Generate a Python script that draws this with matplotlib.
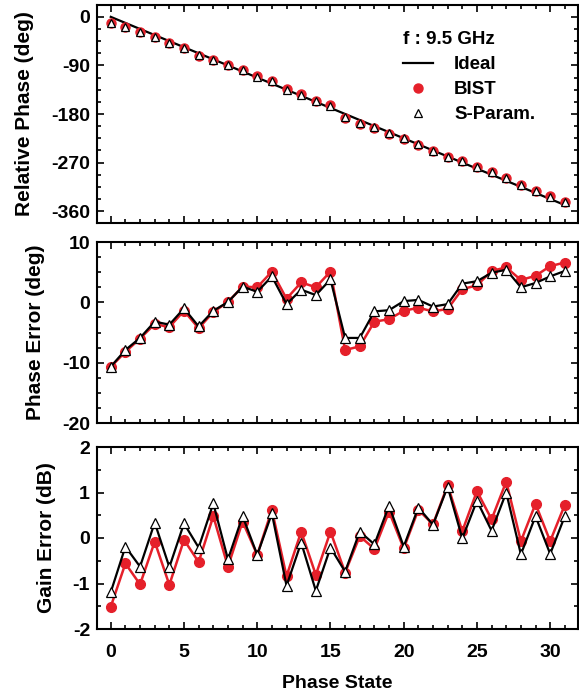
import matplotlib
matplotlib.use("Agg")
import matplotlib.pyplot as plt
from matplotlib.ticker import MultipleLocator
from matplotlib.lines import Line2D

plt.rcParams['font.family'] = ['Liberation Sans', 'DejaVu Sans']
plt.rcParams['font.weight'] = 'bold'
plt.rcParams['axes.unicode_minus'] = False

states = list(range(32))

ideal_phase = [0, -11.25, -22.5, -33.75, -45, -56.25, -67.5, -78.75, -90, -101.25,
               -112.5, -123.75, -135, -146.25, -157.5, -168.75, -180, -191.25, -202.5,
               -213.75, -225, -236.25, -247.5, -258.75, -270, -281.25, -292.5, -303.75,
               -315, -326.25, -337.5, -348.75]
bist_phase = [-10.7, -19.5, -28.5, -37.4, -49.1, -57.7, -71.8, -80.4, -90.0, -98.7,
              -110.0, -118.7, -134.4, -143.0, -155.0, -163.7, -187.9, -198.6, -205.7,
              -216.6, -226.4, -237.2, -249.0, -259.9, -267.8, -278.5, -287.3, -298.0,
              -311.3, -321.9, -331.5, -342.2]
spar_phase = [-10.7, -19.2, -28.4, -37.0, -48.7, -57.3, -71.5, -80.2, -90.0, -98.7,
              -110.8, -119.5, -135.3, -144.2, -156.3, -165.0, -185.9, -197.2, -204.0,
              -215.1, -224.8, -235.9, -248.2, -259.1, -266.9, -277.8, -287.6, -298.4,
              -312.5, -323.1, -333.2, -343.6]

bist_perr = [-10.7, -8.2, -6.0, -3.6, -4.1, -1.4, -4.3, -1.6, 0.05, 2.6,
             2.5, 5.1, 0.6, 3.3, 2.5, 5.1, -7.9, -7.3, -3.2, -2.8,
             -1.4, -0.9, -1.5, -1.1, 2.2, 2.8, 5.2, 5.8, 3.7, 4.4, 6.0, 6.6]
spar_perr = [-10.66, -7.9, -5.9, -3.2, -3.7, -1.0, -4.0, -1.4, 0.05, 2.6,
             1.75, 4.3, -0.3, 2.1, 1.2, 3.8, -5.9, -5.9, -1.5, -1.3,
             0.2, 0.4, -0.7, -0.3, 3.1, 3.5, 4.9, 5.4, 2.5, 3.2, 4.3, 5.2]

bist_gerr = [-1.51, -0.56, -1.02, -0.08, -1.03, -0.04, -0.53, 0.48, -0.63, 0.36,
             -0.37, 0.62, -0.84, 0.14, -0.81, 0.14, -0.76, 0.04, -0.24, 0.58,
             -0.23, 0.62, 0.30, 1.16, 0.15, 1.03, 0.41, 1.24, -0.07, 0.75, -0.07, 0.73]
spar_gerr = [-1.19, -0.19, -0.63, 0.34, -0.64, 0.32, -0.21, 0.76, -0.47, 0.48,
             -0.37, 0.54, -1.05, -0.10, -1.16, -0.21, -0.74, 0.14, -0.14, 0.71,
             -0.19, 0.67, 0.29, 1.13, -0.01, 0.82, 0.16, 1.00, -0.36, 0.48, -0.35, 0.48]

RED = '#E5202A'
W, H = 579, 698
fig = plt.figure(figsize=(W / 100, H / 100), dpi=100)

left, right = 97, 578
def ax_at(top, bottom):
    return fig.add_axes([left / W, 1 - bottom / H, (right - left) / W, (bottom - top) / H])

ax1 = ax_at(5, 223)
ax2 = ax_at(242, 423)
ax3 = ax_at(447, 629)

TFS = 14
LFS = 15
for ax in (ax1, ax2, ax3):
    ax.set_xlim(-0.94, 31.9)
    ax.xaxis.set_major_locator(MultipleLocator(5))
    ax.xaxis.set_minor_locator(MultipleLocator(1))
    ax.tick_params(which='both', direction='in', top=True, right=True, width=1.2)
    ax.tick_params(which='major', length=5)
    ax.tick_params(which='minor', length=3)
    ax.tick_params(axis='y', which='major', pad=5, labelsize=TFS)
    ax.tick_params(axis='x', which='major', pad=11, labelsize=TFS)
    for s in ax.spines.values():
        s.set_linewidth(1.5)

# Top panel
ax1.plot(states, ideal_phase, color='black', lw=1.6, zorder=2)
ax1.plot(states, bist_phase, 'o', color=RED, ms=6.5, mec=RED, zorder=3)
ax1.plot(states, spar_phase, '^', color='white', ms=6, mec='black', mew=0.9, zorder=4)
ax1.set_ylim(-382, 22)
ax1.yaxis.set_major_locator(MultipleLocator(90))
ax1.yaxis.set_minor_locator(MultipleLocator(22.5))
ax1.set_ylabel('Relative Phase (deg)', fontsize=LFS, fontweight='bold', labelpad=12)
ax1.tick_params(axis='x', labelbottom=False)

handles = [Line2D([], [], color='black', lw=1.6),
           Line2D([], [], ls='none', marker='o', color=RED, ms=6.5),
           Line2D([], [], ls='none', marker='^', color='white', mec='black', mew=0.9, ms=6)]
leg = ax1.legend(handles, ['Ideal', 'BIST', 'S-Param.'], title='f : 9.5 GHz',
                 loc='upper left', bbox_to_anchor=((394 - left) / (right - left), 1 - (22 - 5) / 218),
                 frameon=False, borderpad=0, handlelength=1.6, handletextpad=1.1,
                 labelspacing=0.42, prop={'weight': 'bold', 'size': 13.5},
                 title_fontproperties={'weight': 'bold', 'size': 13.5}, alignment='left')

# Middle panel
ax2.plot(states, bist_perr, '-o', color=RED, lw=1.8, ms=7, zorder=2)
ax2.plot(states, spar_perr, '-^', color='black', lw=1.6, ms=6.5, mfc='white', mec='black', mew=0.9, zorder=3)
ax2.set_ylim(-20, 10)
ax2.yaxis.set_major_locator(MultipleLocator(10))
ax2.yaxis.set_minor_locator(MultipleLocator(2.5))
ax2.set_ylabel('Phase Error (deg)', fontsize=LFS, fontweight='bold', labelpad=12)
ax2.tick_params(axis='x', labelbottom=False)

# Bottom panel
ax3.plot(states, bist_gerr, '-o', color=RED, lw=1.8, ms=7, zorder=2)
ax3.plot(states, spar_gerr, '-^', color='black', lw=1.6, ms=6.5, mfc='white', mec='black', mew=0.9, zorder=3)
ax3.set_ylim(-2, 2)
ax3.yaxis.set_major_locator(MultipleLocator(1))
ax3.yaxis.set_minor_locator(MultipleLocator(0.5))
ax3.set_ylabel('Gain Error (dB)', fontsize=LFS, fontweight='bold', labelpad=12)
ax3.set_xlabel('Phase State', fontsize=14, fontweight='bold', labelpad=10)

for ax in (ax1, ax2, ax3):
    for lab in ax.get_xticklabels() + ax.get_yticklabels():
        lab.set_fontweight('bold')

fig.align_ylabels([ax1, ax2, ax3])
fig.savefig('out.png', dpi=100)
